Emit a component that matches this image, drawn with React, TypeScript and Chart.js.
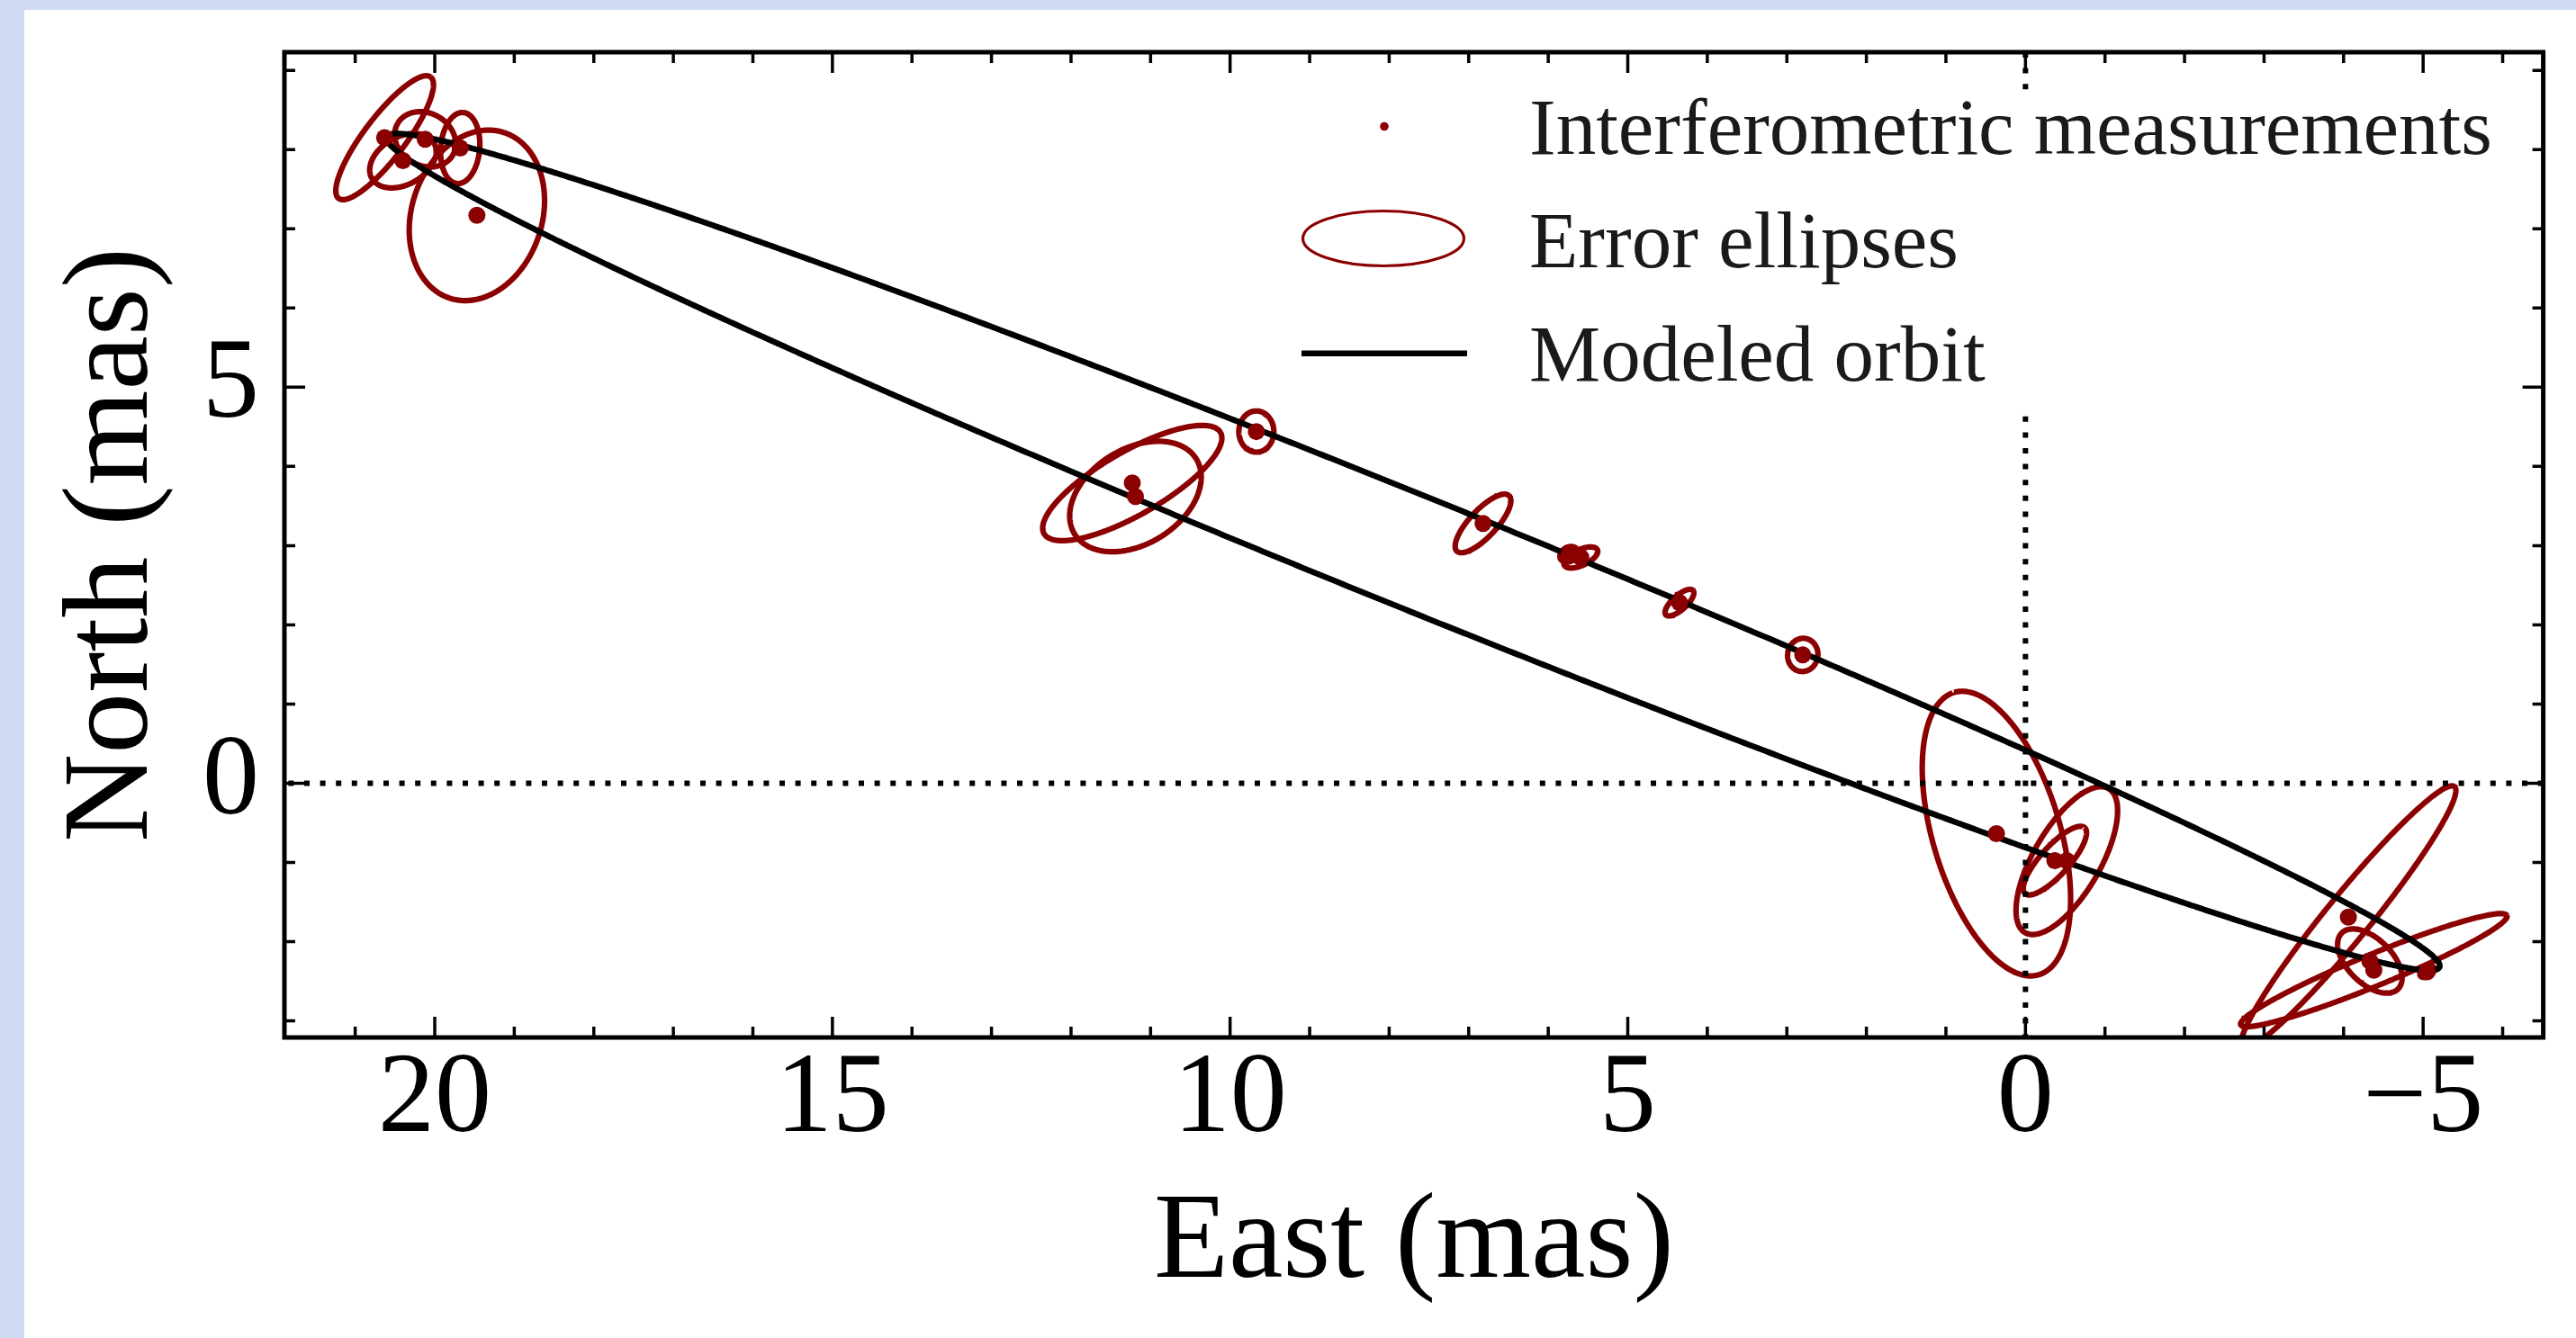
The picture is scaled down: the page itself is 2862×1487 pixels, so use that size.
import React, { useEffect, useRef } from 'react';
import { Chart, registerables } from 'chart.js';

Chart.register(...registerables);

// ---- axis limits and ticks (mas) ----
const X_MIN = -6.51; // East axis is reversed: East grows to the left
const X_MAX = 21.89;
const Y_MIN = -3.21;
const Y_MAX = 9.23;
const xTickValues = [20, 15, 10, 5, 0, -5];
const yTickValues = [0, 5];
const minorTickStep = 1;

// ---- interferometric measurements (East, North in mas) ----
const pointEast = [20.63, 20.12, 20.4, 19.68, 19.47, 11.23, 11.19, 9.67, 6.82, 5.74, 5.59, 4.35, 2.8, 0.365, -0.37, -0.52, -4.06, -4.33, -4.38, -5.05];
const pointNorth = [8.15, 8.13, 7.86, 8.02, 7.17, 3.79, 3.62, 4.44, 3.28, 2.89, 2.85, 2.28, 1.62, -0.636, -0.977, -0.977, -1.69, -2.245, -2.36, -2.38];

// ---- error ellipses (semi-axes in mas, position angle in deg from East toward North) ----
const ellipseMajor = [0.96, 0.4, 0.45, 0.45, 1.1, 1.28, 0.9, 0.26, 0.48, 0.12, 0.23, 0.23, 0.21, 1.86, 0.56, 1.05, 2.12, 0.5, 1.81, 0.1];
const ellipseMinor = [0.26, 0.33, 0.3, 0.245, 0.82, 0.4, 0.6, 0.22, 0.17, 0.09, 0.1, 0.09, 0.19, 0.8, 0.18, 0.42, 0.28, 0.28, 0.2, 0.06];
const ellipseAngle = [127, 30, 150, 95, 108, 150, 148, 90, 133, 150, 155, 138, 100, 73.4, 132, 120, 129, 45, 157.6, 150];

// ---- modeled orbit (projected ellipse on the sky) ----
const orbitCenter = [7.7, 2.92];
const orbitSemiAxes = [13.93, 0.71];
const orbitAngle = 22.1;

const legendLabels = ['Interferometric measurements', 'Error ellipses', 'Modeled orbit'];

const DARK_RED = '#8b0000';
const FONT = "'Liberation Serif', 'DejaVu Serif', serif";

function outline(cx: number, cy: number, a: number, b: number, angDeg: number, n = 240) {
  const phi = (angDeg * Math.PI) / 180;
  const c = Math.cos(phi), s = Math.sin(phi);
  const pts: { x: number; y: number }[] = [];
  for (let i = 0; i <= n; i++) {
    const t = (2 * Math.PI * i) / n;
    const u = a * Math.cos(t), v = b * Math.sin(t);
    pts.push({ x: cx + u * c - v * s, y: cy + u * s + v * c });
  }
  return pts;
}

const framePlugin = {
  id: 'frameLegend',
  afterDraw(chart: any) {
    const { ctx, chartArea: a, scales } = chart;
    const xs = scales.x, ys = scales.y;
    ctx.save();
    // legend
    ctx.fillStyle = '#ffffff';
    ctx.fillRect(1398, 89, 1378, 360);
    ctx.fillStyle = DARK_RED;
    ctx.beginPath();
    ctx.arc(1511, 129.5, 4.8, 0, Math.PI * 2);
    ctx.fill();
    ctx.strokeStyle = DARK_RED;
    ctx.lineWidth = 3.2;
    ctx.beginPath();
    ctx.ellipse(1510, 254, 89.5, 30.5, 0, 0, Math.PI * 2);
    ctx.stroke();
    ctx.strokeStyle = '#000';
    ctx.lineWidth = 6.5;
    ctx.beginPath();
    ctx.moveTo(1419, 381.7);
    ctx.lineTo(1603, 381.7);
    ctx.stroke();
    ctx.fillStyle = '#1a1a1a';
    ctx.font = `89px ${FONT}`;
    ctx.textAlign = 'left';
    ctx.textBaseline = 'alphabetic';
    const baselines = [159.5, 286, 411.5];
    legendLabels.forEach((t, i) => ctx.fillText(t, 1672, baselines[i]));

    // ticks (inward, all four sides)
    ctx.strokeStyle = '#000';
    ctx.lineWidth = 3.5;
    ctx.beginPath();
    for (let v = Math.ceil(X_MIN); v <= Math.floor(X_MAX); v += minorTickStep) {
      const len = xTickValues.includes(v) ? 23 : 12;
      const px = xs.getPixelForValue(v);
      ctx.moveTo(px, a.bottom); ctx.lineTo(px, a.bottom - len);
      ctx.moveTo(px, a.top); ctx.lineTo(px, a.top + len);
    }
    for (let v = Math.ceil(Y_MIN); v <= Math.floor(Y_MAX); v += minorTickStep) {
      const len = yTickValues.includes(v) ? 23 : 12;
      const py = ys.getPixelForValue(v);
      ctx.moveTo(a.left, py); ctx.lineTo(a.left + len, py);
      ctx.moveTo(a.right, py); ctx.lineTo(a.right - len, py);
    }
    ctx.stroke();
    ctx.lineWidth = 5;
    ctx.strokeRect(a.left, a.top, a.right - a.left, a.bottom - a.top);
    ctx.restore();
  },
};

const noPad = (s: any) => {
  s.paddingTop = 0;
  s.paddingBottom = 0;
  s.paddingLeft = 0;
  s.paddingRight = 0;
};

export default function App() {
  const ref = useRef<HTMLCanvasElement | null>(null);
  useEffect(() => {
    if (!ref.current) return;
    const datasets: any[] = [];
    datasets.push({
      label: legendLabels[0],
      data: pointEast.map((x, i) => ({ x, y: pointNorth[i] })),
      pointRadius: 9.5,
      pointBackgroundColor: DARK_RED,
      pointBorderWidth: 0,
      showLine: false,
      order: 0,
    });
    datasets.push({
      label: legendLabels[2],
      data: outline(orbitCenter[0], orbitCenter[1], orbitSemiAxes[0], orbitSemiAxes[1], orbitAngle, 720),
      showLine: true,
      borderColor: '#000',
      borderWidth: 6.5,
      pointRadius: 0,
      tension: 0.0001,
      order: 1,
    });
    datasets.push({
      label: 'North = 0',
      data: [{ x: X_MIN, y: 0 }, { x: X_MAX, y: 0 }],
      showLine: true,
      borderColor: '#000',
      borderWidth: 6,
      borderDash: [6, 11.6],
      pointRadius: 0,
      order: 2,
    });
    datasets.push({
      label: 'East = 0',
      data: [{ x: 0, y: Y_MAX }, { x: 0, y: Y_MIN }],
      showLine: true,
      borderColor: '#000',
      borderWidth: 6,
      borderDash: [6, 11.6],
      pointRadius: 0,
      order: 2,
    });
    pointEast.forEach((e, i) => {
      datasets.push({
        label: i === 0 ? legendLabels[1] : `${legendLabels[1]} ${i + 1}`,
        data: outline(e, pointNorth[i], ellipseMajor[i], ellipseMinor[i], ellipseAngle[i]),
        showLine: true,
        borderColor: DARK_RED,
        borderWidth: 6.2,
        pointRadius: 0,
        tension: 0.0001,
        clip: 0,
        order: 3,
      });
    });

    const chart = new Chart(ref.current, {
      type: 'scatter',
      data: { datasets },
      options: {
        animation: false,
        responsive: false,
        events: [],
        layout: { padding: { left: 0, top: 47, right: 36.4, bottom: 0 } },
        plugins: { legend: { display: false }, tooltip: { enabled: false }, title: { display: false } },
        scales: {
          x: {
            type: 'linear',
            reverse: true,
            min: X_MIN,
            max: X_MAX,
            grid: { display: false, drawTicks: false },
            border: { display: false },
            afterBuildTicks: (s: any) => { s.ticks = xTickValues.map((v) => ({ value: v })); },
            afterFit: (s: any) => { s.height = 334; noPad(s); },
            ticks: {
              autoSkip: false,
              maxRotation: 0,
              padding: 8,
              color: '#000',
              font: { family: FONT, size: 126, lineHeight: 1 },
              callback: (v: any) => (Number(v) < 0 ? '\u2212' + Math.abs(Number(v)) : String(v)),
            },
            title: {
              display: true,
              text: 'East (mas)',
              color: '#000',
              font: { family: FONT, size: 136 },
              padding: { top: 0, bottom: 22 },
            },
          },
          y: {
            type: 'linear',
            min: Y_MIN,
            max: Y_MAX,
            grid: { display: false, drawTicks: false },
            border: { display: false },
            afterBuildTicks: (s: any) => { s.ticks = yTickValues.map((v) => ({ value: v })); },
            afterFit: (s: any) => { s.width = 289; noPad(s); },
            ticks: {
              autoSkip: false,
              padding: 28,
              color: '#000',
              font: { family: FONT, size: 126, lineHeight: 1 },
              callback: (v: any) => (Number(v) < 0 ? '\u2212' + Math.abs(Number(v)) : String(v)),
            },
            title: {
              display: true,
              text: 'North (mas)',
              color: '#000',
              font: { family: FONT, size: 136 },
              padding: { top: 19, bottom: 0 },
            },
          },
        },
      },
      plugins: [framePlugin],
    });
    return () => chart.destroy();
  }, []);

  return (
    <div style={{ position: 'fixed', left: 0, top: 0, width: 2862, height: 1487, background: '#cfdbf2', overflow: 'hidden' }}>
      <div style={{ position: 'absolute', left: 27, top: 11, width: 2835, height: 1476, background: '#ffffff' }}>
        <canvas ref={ref} width={2835} height={1476} style={{ display: 'block' }} />
      </div>
    </div>
  );
}
